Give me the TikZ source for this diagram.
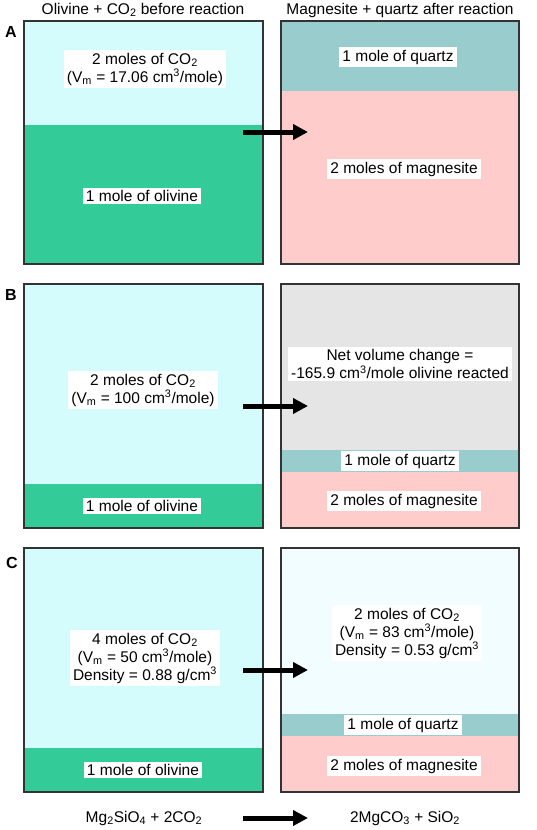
\documentclass[tikz,border=0pt]{standalone}
\usepackage{fontspec}
\setmainfont{Liberation Sans}
\usetikzlibrary{arrows.meta}
\definecolor{gasc}{HTML}{D5FCFC}
\definecolor{olic}{HTML}{33CC99}
\definecolor{qtzc}{HTML}{99CCCC}
\definecolor{magc}{HTML}{FFCCCC}
\definecolor{netc}{HTML}{E5E5E5}
\definecolor{gastwoc}{HTML}{F2FDFF}
\definecolor{edgec}{HTML}{333333}
\begin{document}
\begin{tikzpicture}[x=1pt,y=-1pt,
  txt/.style={font=\fontsize{15.5}{18}\selectfont, inner sep=0pt},
  lab/.style={txt, fill=white, inner xsep=3pt, inner ysep=2.5pt, align=center},
  frame/.style={draw=edgec, line width=1.5pt},
  bigarrow/.style={line width=5pt, -{Triangle[length=15pt,width=15pt]}},
  letter/.style={font=\fontsize{16}{18}\selectfont\bfseries, inner sep=0pt}]
\useasboundingbox (0,0) rectangle (536,830);

% headers
\node[txt] (h1) at (143,10) {Olivine + CO\textsubscript{2} before reaction};
\node[txt] (h2) at (400,10) {Magnesite + quartz after reaction};

% panel letters
\node[letter] (la) at (11,32) {A};
\node[letter] (lb) at (11,295) {B};
\node[letter] (lc) at (12,563) {C};

% ---------- Panel A ----------
\fill[gasc] (24,21) rectangle (263,125);
\fill[olic] (24,125) rectangle (263,264);
\draw[frame] (24,21) rectangle (263,264);
\fill[qtzc] (281,21) rectangle (519,91);
\fill[magc] (281,91) rectangle (519,264);
\draw[frame] (281,21) rectangle (519,264);

% ---------- Panel B ----------
\fill[gasc] (24,284) rectangle (263,484);
\fill[olic] (24,484) rectangle (263,528);
\draw[frame] (24,284) rectangle (263,528);
\fill[netc] (281,284) rectangle (519,450);
\fill[qtzc] (281,450) rectangle (519,472);
\fill[magc] (281,472) rectangle (519,528);
\draw[frame] (281,284) rectangle (519,528);

% ---------- Panel C ----------
\fill[gasc] (24,548) rectangle (263,748);
\fill[olic] (24,748) rectangle (263,792);
\draw[frame] (24,548) rectangle (263,792);
\fill[gastwoc] (281,548) rectangle (519,714);
\fill[qtzc] (281,714) rectangle (519,736);
\fill[magc] (281,736) rectangle (519,792);
\draw[frame] (281,548) rectangle (519,792);

% labels A
\node[lab] (agas) at (145,69) {2 moles of CO\textsubscript{2}\\(V\textsubscript{m} = 17.06 cm\textsuperscript{3}/mole)};
\node[lab] (aoli) at (142,196) {1 mole of olivine};
\node[lab] (aqtz) at (398,57) {1 mole of quartz};
\node[lab] (amag) at (404,169) {2 moles of magnesite};

% labels B
\node[lab] (bgas) at (143,390) {2 moles of CO\textsubscript{2}\\(V\textsubscript{m} = 100 cm\textsuperscript{3}/mole)};
\node[lab] (boli) at (142,506) {1 mole of olivine};
\node[lab] (bnet) at (400,364) {Net volume change =\\-165.9 cm\textsuperscript{3}/mole olivine reacted};
\node[lab] (bqtz) at (400,461) {1 mole of quartz};
\node[lab] (bmag) at (404,501) {2 moles of magnesite};

% labels C
\node[lab] (cgas) at (145,658) {4 moles of CO\textsubscript{2}\\(V\textsubscript{m} = 50 cm\textsuperscript{3}/mole)\\Density = 0.88 g/cm\textsuperscript{3}};
\node[lab] (coli) at (143,770) {1 mole of olivine};
\node[lab] (cgastwo) at (407,633) {2 moles of CO\textsubscript{2}\\(V\textsubscript{m} = 83 cm\textsuperscript{3}/mole)\\Density = 0.53 g/cm\textsuperscript{3}};
\node[lab] (cqtz) at (403,725) {1 mole of quartz};
\node[lab] (cmag) at (404,766) {2 moles of magnesite};

% equation
\node[txt] (eql) at (144,818) {Mg\textsubscript{2}SiO\textsubscript{4} + 2CO\textsubscript{2}};
\node[txt] (eqr) at (405,818) {2MgCO\textsubscript{3} + SiO\textsubscript{2}};

% arrows
\coordinate (as) at (243,132); \coordinate (ae) at (308,132);
\coordinate (bs) at (243,406); \coordinate (be) at (308,406);
\coordinate (cs) at (243,670); \coordinate (ce) at (308,670);
\coordinate (ds) at (243,818); \coordinate (de) at (308,818);
\draw[bigarrow] (as) -- (ae);
\draw[bigarrow] (bs) -- (be);
\draw[bigarrow] (cs) -- (ce);
\draw[bigarrow] (ds) -- (de);
\end{tikzpicture}
\end{document}
